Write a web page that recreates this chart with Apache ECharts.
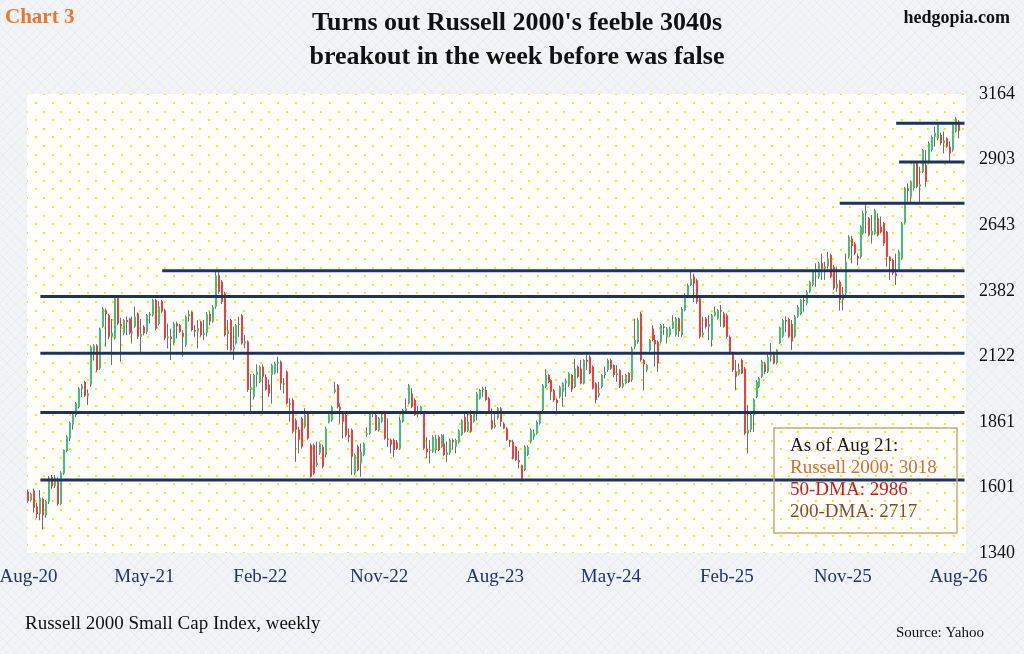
<!DOCTYPE html>
<html>
<head>
<meta charset="utf-8">
<script src="https://cdn.jsdelivr.net/npm/echarts@6/dist/echarts.min.js"></script>
<style>
  html, body { margin: 0; padding: 0; }
  body {
    background-color: #f2f4f7;
    background-image:
      repeating-linear-gradient(45deg, rgba(120,130,150,0.05) 0 1px, transparent 1px 6px),
      repeating-linear-gradient(-45deg, rgba(120,130,150,0.05) 0 1px, transparent 1px 6px);
  }
  #main { width: 1024px; height: 654px; }
</style>
</head>
<body>
<div id="main"></div>
<script>
// weekly Russell 2000 candles, [open, close, low, high]
var weekStart = '2020-08-21';
var ohlc = [
  [1583,1547,1540,1592],[1550,1575,1545,1580],[1588,1520,1500,1596],[1525,1495,1478,1540],[1495,1560,1470,1590],
  [1555,1490,1433,1560],[1490,1545,1480,1550],[1545,1640,1535,1645],[1642,1605,1595,1650],[1605,1640,1598,1650],
  [1630,1535,1528,1640],[1535,1660,1530,1665],[1656,1749,1650,1752],[1745,1802,1740,1808],[1795,1857,1785,1862],
  [1850,1890,1830,1895],[1888,1934,1880,1940],[1921,1994,1914,2000],[1990,2005,1960,2012],[2020,1965,1960,2025],
  [1965,1975,1928,1990],[2010,2160,2000,2165],[2140,2165,2105,2170],[2165,2067,2060,2170],[2073,2232,2068,2236],
  [2239,2312,2235,2318],[2305,2290,2160,2312],[2285,2199,2190,2290],[2200,2215,2087,2270],[2193,2352,2188,2360],
  [2358,2252,2245,2362],[2250,2240,2100,2275],[2213,2266,2205,2270],[2266,2258,2206,2280],[2272,2213,2208,2275],
  [2213,2220,2173,2280],[2240,2280,2235,2320],[2292,2199,2190,2296],[2199,2210,2133,2270],[2239,2213,2205,2245],
  [2219,2285,2210,2290],[2285,2290,2252,2298],[2285,2345,2280,2350],[2345,2232,2225,2350],[2250,2320,2245,2340],
  [2340,2300,2295,2345],[2305,2193,2186,2310],[2193,2200,2153,2252],[2200,2190,2107,2232],[2173,2252,2168,2258],
  [2252,2240,2193,2260],[2245,2219,2215,2250],[2215,2200,2120,2225],[2166,2279,2160,2284],[2280,2290,2259,2305],
  [2298,2226,2220,2300],[2226,2220,2199,2245],[2220,2235,2153,2266],[2259,2206,2200,2262],[2206,2215,2186,2266],
  [2215,2290,2200,2298],[2290,2260,2245,2300],[2260,2319,2255,2325],[2319,2444,2310,2458],[2444,2378,2370,2462],
  [2418,2338,2330,2425],[2371,2206,2200,2378],[2210,2225,2146,2266],[2266,2146,2140,2270],[2150,2160,2107,2239],
  [2173,2246,2168,2250],[2246,2250,2199,2279],[2285,2173,2168,2290],[2173,2180,2153,2206],[2180,1988,1980,2185],
  [1990,2000,1900,2050],[1960,2047,1950,2052],[2047,2060,2001,2090],[2020,2080,2015,2085],[2080,2040,1897,2090],
  [2040,1990,1985,2050],[2010,1974,1960,2030],[2047,2087,1934,2092],[2054,2093,2050,2100],[2093,2100,2054,2120],
  [2100,2014,1988,2105],[2014,2010,1974,2035],[2060,1934,1930,2066],[1934,1930,1862,1955],[1948,1822,1815,1955],
  [1868,1830,1702,1875],[1830,1790,1736,1842],[1875,1762,1755,1880],[1842,1888,1835,1915],[1895,1795,1790,1900],
  [1769,1643,1640,1775],[1769,1656,1650,1775],[1690,1700,1683,1782],[1736,1775,1730,1780],[1762,1683,1676,1770],
  [1729,1835,1720,1842],[1860,1888,1855,1892],[1868,1921,1862,1925],[1980,1990,1974,2020],[2007,1921,1915,2012],
  [1921,1910,1855,1935],[1895,1862,1795,1900],[1888,1808,1800,1895],[1808,1800,1780,1835],[1830,1722,1650,1835],
  [1656,1729,1650,1735],[1762,1670,1665,1770],[1696,1742,1643,1775],[1729,1775,1725,1780],[1810,1815,1802,1840],
  [1815,1895,1810,1900],[1895,1900,1880,1905],[1888,1829,1825,1895],[1829,1875,1822,1880],[1862,1881,1858,1895],
  [1900,1795,1790,1905],[1795,1790,1762,1875],[1790,1770,1736,1795],[1789,1749,1722,1795],[1780,1755,1750,1789],
  [1755,1868,1750,1882],[1862,1908,1858,1912],[1900,1915,1895,1955],[1935,2007,1930,2012],[1974,1921,1915,1995],
  [1948,1888,1885,1955],[1890,1900,1880,1925],[1895,1921,1890,1925],[1895,1755,1750,1900],[1755,1740,1716,1800],
  [1745,1750,1696,1789],[1742,1802,1738,1808],[1749,1795,1736,1810],[1802,1749,1745,1808],[1762,1808,1758,1812],
  [1775,1729,1725,1812],[1729,1740,1702,1782],[1736,1789,1730,1795],[1789,1780,1750,1795],[1762,1789,1736,1795],
  [1780,1828,1775,1832],[1808,1868,1805,1872],[1881,1822,1818,1901],[1825,1862,1820,1895],[1888,1822,1818,1908],
  [1862,1895,1858,1900],[1895,1974,1868,1980],[1955,1988,1950,1992],[1988,1995,1961,2001],[1988,1948,1945,2001],
  [1955,1901,1898,1960],[1868,1835,1830,1915],[1840,1850,1835,1895],[1875,1915,1870,1920],[1915,1862,1842,1920],
  [1855,1835,1832,1860],[1835,1789,1785,1840],[1789,1780,1762,1790],[1782,1716,1712,1790],[1762,1709,1705,1765],
  [1709,1700,1676,1745],[1689,1636,1630,1692],[1670,1762,1665,1768],[1729,1762,1725,1768],[1782,1828,1775,1835],
  [1800,1815,1790,1830],[1815,1861,1810,1866],[1855,1895,1850,1900],[1908,2007,1900,2012],[2001,2047,1995,2070],
  [2047,2020,2014,2052],[2027,1981,1948,2030],[1987,1948,1940,1992],[1948,1935,1897,1955],[1961,2001,1955,2005],
  [1981,2014,1921,2018],[2014,2025,1961,2034],[2007,2054,2000,2058],[2047,1990,1980,2050],[2000,2073,1995,2110],
  [2080,2040,2035,2085],[2073,2014,2010,2107],[2014,2107,2010,2110],[2107,2100,2067,2133],[2120,2054,2050,2128],
  [2080,1994,1990,2085],[2014,1948,1935,2018],[1965,1975,1958,2020],[2001,2047,1995,2052],[2047,2060,2034,2080],
  [2067,2107,2060,2112],[2107,2073,2068,2112],[2087,2047,2040,2090],[2047,2055,2020,2087],[2067,2001,1995,2070],
  [2001,2015,1994,2047],[2015,2047,2010,2052],[2054,2020,2015,2058],[2027,2153,2020,2160],[2160,2186,2150,2272],
  [2179,2266,2172,2275],[2292,2107,2100,2299],[2107,2090,1987,2110],[2067,2087,2060,2092],[2146,2186,2140,2190],
  [2232,2186,2180,2245],[2186,2170,2080,2206],[2179,2093,2060,2185],[2179,2246,2172,2250],[2240,2235,2206,2250],
  [2199,2232,2173,2238],[2206,2232,2200,2240],[2232,2260,2230,2285],[2206,2272,2200,2278],[2272,2220,2199,2275],
  [2206,2310,2199,2318],[2305,2365,2300,2372],[2365,2405,2360,2411],[2405,2430,2400,2462],[2438,2411,2338,2450],
  [2424,2338,2330,2430],[2352,2199,2192,2360],[2205,2215,2199,2279],[2272,2239,2232,2278],[2239,2250,2186,2285],
  [2186,2285,2160,2290],[2285,2300,2280,2319],[2272,2305,2268,2310],[2305,2300,2239,2325],[2292,2239,2235,2298],
  [2285,2199,2192,2292],[2199,2133,2128,2205],[2133,2067,2060,2140],[2060,2040,1987,2107],[2050,2070,2045,2093],
  [2107,2054,2050,2112],[2073,1815,1808,2080],[1815,1830,1736,1928],[1830,1888,1821,1901],[1888,1950,1821,1955],
  [1961,2020,1955,2027],[2001,2034,1995,2040],[2040,2100,2035,2107],[2093,2060,2050,2100],[2060,2120,2055,2134],
  [2120,2130,2100,2174],[2134,2094,2090,2140],[2095,2147,2090,2150],[2174,2234,2170,2240],[2200,2266,2195,2270],
  [2266,2260,2218,2280],[2270,2200,2195,2275],[2250,2180,2147,2266],[2200,2280,2195,2285],[2280,2318,2275,2325],
  [2290,2345,2285,2350],[2345,2340,2299,2358],[2332,2378,2325,2385],[2378,2418,2372,2422],[2405,2458,2400,2462],
  [2458,2470,2398,2491],[2438,2491,2430,2497],[2491,2470,2425,2530],[2470,2480,2425,2497],[2480,2510,2470,2537],
  [2524,2438,2432,2530],[2478,2392,2385,2485],[2392,2410,2378,2478],[2418,2345,2303,2425],[2345,2370,2305,2398],
  [2372,2497,2365,2530],[2517,2597,2510,2603],[2590,2560,2491,2600],[2570,2530,2525,2575],[2520,2510,2484,2530],
  [2517,2637,2510,2642],[2610,2690,2605,2700],[2690,2700,2610,2729],[2670,2603,2598,2675],[2603,2620,2570,2683],
  [2610,2703,2605,2708],[2670,2603,2598,2690],[2636,2615,2610,2677],[2650,2570,2560,2655],[2617,2517,2478,2620],
  [2517,2500,2425,2520],[2504,2451,2445,2510],[2451,2440,2405,2530],[2464,2537,2458,2545],[2510,2650,2505,2655],
  [2650,2789,2645,2795],[2789,2780,2736,2809],[2756,2815,2730,2820],[2789,2888,2780,2893],[2888,2795,2790,2895],
  [2795,2805,2729,2875],[2855,2941,2850,2946],[2882,2815,2795,2941],[2895,2968,2890,2975],[2941,2994,2935,3000],
  [2994,3010,2955,3034],[2988,3041,2980,3045],[3001,2968,2960,3010],[2968,2980,2928,3014],[2988,2955,2950,2992],
  [2955,2928,2895,2975],[2941,3041,2935,3045],[3014,3067,3010,3072],[3054,3018,2988,3060]
];

var slotCount = 316;
var xTickIdx = [0, 39, 78, 118, 157, 196, 235, 274, 313];
var xTickLabels = ['Aug-20', 'May-21', 'Feb-22', 'Nov-22', 'Aug-23', 'May-24', 'Feb-25', 'Nov-25', 'Aug-26'];
var yTicks = [1340, 1601, 1861, 2122, 2382, 2643, 2903, 3164];

// support / resistance levels drawn on the chart
var levelValues = [2462, 2359, 2134, 1898, 1630, 3048, 2894, 2730];
var levelStarts = [45, 4, 4, 4, 4, 292, 293, 273];
var levelEnd = 315;

var noteLines = ['As of Aug 21:', 'Russell 2000: 3018', '50-DMA: 2986', '200-DMA: 2717'];
var noteColors = ['#1a1a1a', '#d5702c', '#cc1b1b', '#8a4a1c'];

var serif = "'Liberation Serif', 'Times New Roman', serif";

// weekly category labels
var weeks = [];
var d0 = new Date(weekStart + 'T00:00:00Z');
for (var i = 0; i < slotCount; i++) {
  var d = new Date(d0.getTime() + i * 7 * 86400000);
  weeks.push(d.toISOString().slice(0, 10));
}

// yellow dotted plot background (staggered lattice, 52px tile = 3 cells)
var tile = document.createElement('canvas');
tile.width = 52; tile.height = 52;
var ctx = tile.getContext('2d');
ctx.fillStyle = '#ffffff';
ctx.fillRect(0, 0, 52, 52);
ctx.fillStyle = '#fbea00';
var cell = 52 / 3;
var phases = [[1.0, 16.0], [9.4, 7.6]];
for (var p = 0; p < phases.length; p++) {
  for (var a = -1; a <= 3; a++) {
    for (var b = -1; b <= 3; b++) {
      var px = Math.round(phases[p][0] + a * cell);
      var py = Math.round(phases[p][1] + b * cell);
      ctx.fillRect(px - 1, py - 1, 2, 2);
    }
  }
}

var candleData = ohlc.map(function (r, i) { return [i, r[0], r[1], r[2], r[3]]; });

var series = [{
  type: 'custom',
  data: candleData,
  encode: { x: 0, y: [1, 2, 3, 4] },
  z: 2,
  renderItem: function (params, api) {
    var x = api.value(0);
    var o = api.coord([x, api.value(1)]);
    var c = api.coord([x, api.value(2)]);
    var l = api.coord([x, api.value(3)]);
    var h = api.coord([x, api.value(4)]);
    var up = api.value(2) >= api.value(1);
    var top = Math.min(o[1], c[1]);
    var bot = Math.max(o[1], c[1]);
    var cx = Math.round(o[0]);
    return {
      type: 'group',
      children: [{
        type: 'line',
        shape: { x1: cx - 0.5, y1: h[1], x2: cx - 0.5, y2: l[1] },
        style: { stroke: '#6e6e6e', lineWidth: 1 }
      }, {
        type: 'rect',
        shape: { x: cx - 1, y: top, width: 2, height: Math.max(bot - top, 1) },
        style: { fill: up ? '#45bf74' : '#f03e3e' }
      }]
    };
  }
}];

levelValues.forEach(function (v, k) {
  series.push({
    type: 'line',
    data: [[levelStarts[k], v], [levelEnd, v]],
    symbol: 'none',
    silent: true,
    z: 5,
    lineStyle: { color: '#1d3461', width: 3 }
  });
});

var graphics = [
  { type: 'text', x: 5, y: 18, z: 100,
    style: { text: 'Chart 3', fill: '#e8792f', fontFamily: serif, fontWeight: 'bold', fontSize: 21,
      align: 'left', verticalAlign: 'middle' } },
  { type: 'text', x: 1010, y: 18, z: 100,
    style: { text: 'hedgopia.com', fill: '#111', fontFamily: serif, fontWeight: 'bold', fontSize: 18,
      align: 'right', verticalAlign: 'middle' } },
  { type: 'text', x: 517, y: 23, z: 100,
    style: { text: "Turns out Russell 2000's feeble 3040s", fill: '#111', fontFamily: serif, fontWeight: 'bold',
      fontSize: 26, align: 'center', verticalAlign: 'middle' } },
  { type: 'text', x: 517, y: 57, z: 100,
    style: { text: 'breakout in the week before was false', fill: '#111', fontFamily: serif, fontWeight: 'bold',
      fontSize: 26, align: 'center', verticalAlign: 'middle' } },
  { type: 'text', x: 25, y: 624, z: 100,
    style: { text: 'Russell 2000 Small Cap Index, weekly', fill: '#111', fontFamily: serif, fontSize: 19,
      align: 'left', verticalAlign: 'middle' } },
  { type: 'text', x: 984, y: 633, z: 100,
    style: { text: 'Source: Yahoo', fill: '#111', fontFamily: serif, fontSize: 15,
      align: 'right', verticalAlign: 'middle' } },
  { type: 'rect', z: 100, shape: { x: 774, y: 428, width: 183, height: 105 },
    style: { fill: 'rgba(255,255,255,0)', stroke: '#c9aa76', lineWidth: 1.5 } }
];
noteLines.forEach(function (t, k) {
  graphics.push({ type: 'text', x: 790, y: 446 + k * 22, z: 100,
    style: { text: t, fill: noteColors[k], fontFamily: serif, fontSize: 19, align: 'left', verticalAlign: 'middle' } });
});

var myChart = echarts.init(document.getElementById('main'), null, { renderer: 'canvas' });
myChart.setOption({
  animation: false,
  backgroundColor: 'transparent',
  grid: {
    left: 27, right: 58, top: 94, bottom: 101,
    show: true,
    borderWidth: 0,
    backgroundColor: { image: tile, repeat: 'repeat' },
    containLabel: false,
    outerBoundsMode: 'none'
  },
  xAxis: {
    type: 'category',
    data: weeks,
    boundaryGap: true,
    axisLine: { show: false },
    axisTick: { show: false },
    splitLine: { show: false },
    axisLabel: {
      interval: function (index) { return xTickIdx.indexOf(index) >= 0; },
      formatter: function (value, index) { return xTickLabels[xTickIdx.indexOf(index)]; },
      color: '#1f3470',
      fontFamily: serif,
      fontSize: 19,
      margin: 15
    }
  },
  yAxis: {
    type: 'value',
    position: 'right',
    min: yTicks[0],
    max: yTicks[yTicks.length - 1],
    axisLine: { show: false },
    axisTick: { show: false },
    splitLine: { show: false },
    axisLabel: {
      customValues: yTicks,
      formatter: function (v) { return String(Math.round(v)); },
      color: '#111',
      fontFamily: serif,
      fontSize: 18,
      margin: 13
    }
  },
  series: series,
  graphic: graphics
});
</script>
</body>
</html>
